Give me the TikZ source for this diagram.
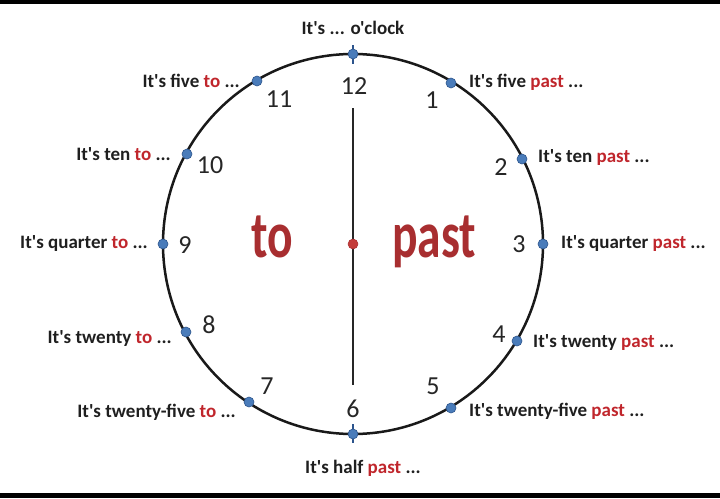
\documentclass[tikz,border=0pt]{standalone}
\usepackage{fontspec}
\setmainfont{Carlito}[Ligatures=TeXOff]
\usetikzlibrary{calc}
\definecolor{lblred}{RGB}{192,38,44}
\definecolor{bigred}{RGB}{168,46,48}
\definecolor{dotblue}{RGB}{74,124,186}
\definecolor{dotedge}{RGB}{44,84,140}
\definecolor{ctrred}{RGB}{196,60,58}
\begin{document}
\begin{tikzpicture}[x=1pt,y=-1pt,
  lbl/.style={font=\fontsize{19}{22}\selectfont\bfseries, text=black!88, inner sep=0pt},
  num/.style={font=\fontsize{26}{28}\selectfont, text=black!85, inner sep=0pt},
  big/.style={font=\fontsize{66}{70}\selectfont\bfseries, text=bigred, inner sep=0pt, xscale=0.72},
  hdot/.style={circle, fill=dotblue, draw=dotedge, line width=0.6pt, minimum size=10pt, inner sep=0pt},
  tick/.style={line width=1.4pt, draw=dotedge}]
\useasboundingbox (0,0) rectangle (720,498);
\fill[black] (0,0) rectangle (720,4);
\fill[black] (0,493) rectangle (720,498);
% clock face
\coordinate (c) at (353,244);
\draw[line width=2.5pt, black!90] (c) circle[radius=190];
\coordinate (ltop) at (353,108);
\coordinate (lbot) at (353,385);
\draw[line width=1.5pt, black!85] (ltop) -- (lbot);
\node[circle, fill=ctrred, draw=bigred, line width=0.5pt, minimum size=10pt, inner sep=0pt] (ctr) at (c) {};
% ticks at 12 and 6
\coordinate (t12a) at (353,45); \coordinate (t12b) at (353,64);
\coordinate (t6a) at (353,424); \coordinate (t6b) at (353,443);
\draw[tick] (t12a) -- (t12b);
\draw[tick] (t6a) -- (t6b);
% hour dots
\node[hdot] (d12) at (353,54) {};
\node[hdot] (d1) at (451,83) {};
\node[hdot] (d2) at (522,159) {};
\node[hdot] (d3) at (543,244) {};
\node[hdot] (d4) at (517,341) {};
\node[hdot] (d5) at (451,408) {};
\node[hdot] (d6) at (353,434) {};
\node[hdot] (d7) at (249,402) {};
\node[hdot] (d8) at (186,332) {};
\node[hdot] (d9) at (163,244) {};
\node[hdot] (d10) at (187,154) {};
\node[hdot] (d11) at (257,81) {};
% numbers
\node[num] (n12) at (354,86) {12};
\node[num] (n1) at (432,100) {1};
\node[num] (n2) at (501,167) {2};
\node[num] (n3) at (519,244) {3};
\node[num] (n4) at (499,334) {4};
\node[num] (n5) at (433,386) {5};
\node[num] (n6) at (353,409) {6};
\node[num] (n7) at (267,386) {7};
\node[num] (n8) at (209,325) {8};
\node[num] (n9) at (185,245) {9};
\node[num] (n10) at (210,165) {10};
\node[num] (n11) at (279,99) {11};
% big words
\node[big, anchor=base] (wto) at (272,257) {to};
\node[big, anchor=base] (wpast) at (434,257) {past};
% labels
\node[lbl] (l12) at (353,28) {It's ... o'clock};
\node[lbl, anchor=west] (l1) at (469,82) {It's five \textcolor{lblred}{past} ...};
\node[lbl, anchor=west] (l2) at (538,158) {It's ten \textcolor{lblred}{past} ...};
\node[lbl, anchor=west] (l3) at (561,244) {It's quarter \textcolor{lblred}{past} ...};
\node[lbl, anchor=west] (l4) at (533,343) {It's twenty \textcolor{lblred}{past} ...};
\node[lbl, anchor=west] (l5) at (469,411) {It's twenty-five \textcolor{lblred}{past} ...};
\node[lbl] (l6) at (363,468) {It's half \textcolor{lblred}{past} ...};
\node[lbl, anchor=east] (l7) at (236,412) {It's twenty-five \textcolor{lblred}{to} ...};
\node[lbl, anchor=east] (l8) at (172,339) {It's twenty \textcolor{lblred}{to} ...};
\node[lbl, anchor=east] (l9) at (148,244) {It's quarter \textcolor{lblred}{to} ...};
\node[lbl, anchor=east] (l10) at (171,154) {It's ten \textcolor{lblred}{to} ...};
\node[lbl, anchor=east] (l11) at (240,81) {It's five \textcolor{lblred}{to} ...};
\end{tikzpicture}
\end{document}
